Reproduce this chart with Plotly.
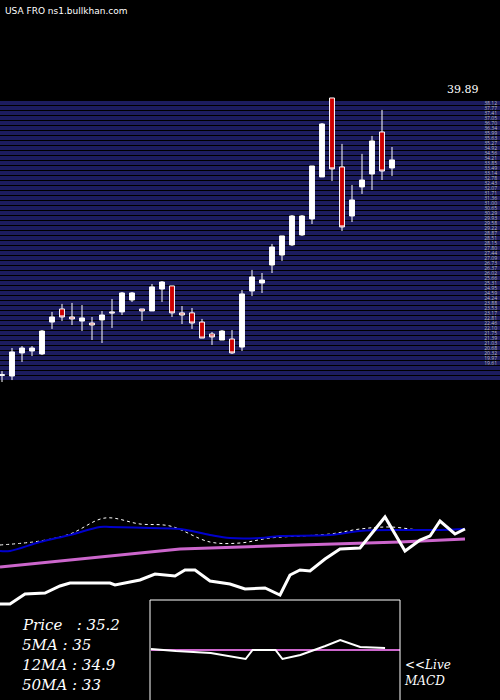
import plotly.graph_objects as go

# daily candles, oldest -> newest
opens  = [20.15, 20.11, 21.75, 21.89, 21.68, 23.95, 24.88, 24.31, 24.02, 23.88,
          24.10, 24.67, 24.67, 25.52, 24.88, 24.74, 26.30, 26.52, 24.60, 24.60,
          23.95, 23.10, 22.67, 22.74, 22.17, 26.16, 26.73, 28.01, 28.72, 29.44,
          30.15, 31.29, 34.28, 39.90, 34.99, 31.50, 33.57, 34.49, 37.48, 34.92]
highs  = [20.46, 22.10, 22.24, 22.24, 23.38, 24.67, 25.24, 25.31, 25.16, 24.31,
          24.74, 25.59, 26.09, 26.09, 24.88, 26.66, 26.87, 26.52, 25.09, 24.95,
          24.17, 23.24, 23.38, 23.38, 26.23, 27.66, 27.44, 29.51, 30.08, 31.57,
          31.57, 35.06, 38.12, 39.90, 36.63, 33.71, 35.92, 37.20, 39.05, 36.41]
lows   = [19.68, 19.82, 21.11, 21.53, 21.60, 23.46, 24.02, 23.74, 23.31, 22.67,
          22.46, 23.53, 24.45, 25.38, 24.02, 24.74, 25.38, 24.31, 23.81, 23.46,
          22.81, 22.32, 22.67, 21.68, 21.89, 25.80, 26.02, 27.44, 28.30, 29.36,
          30.08, 30.93, 34.28, 33.99, 30.43, 31.07, 33.07, 33.35, 34.06, 34.35]
closes = [20.20, 21.82, 22.10, 22.10, 23.31, 24.31, 24.31, 24.17, 24.24, 23.74,
          24.45, 24.60, 26.02, 26.02, 24.74, 26.45, 26.80, 24.60, 24.45, 23.88,
          22.81, 22.89, 23.31, 21.75, 25.95, 27.16, 26.94, 29.29, 30.08, 31.50,
          31.50, 35.06, 38.05, 34.85, 30.72, 32.64, 34.06, 36.84, 34.70, 35.49]
days = list(range(len(closes)))

# lower indicator panel (levels, larger = lower on screen)
blue_x = [-0.2, 0.8, 3.8, 6.8, 9.8, 10.8, 14.8, 17.8, 20.8, 22.8, 25.8, 27.8, 32.8, 35.8, 39.8, 43.8, 46.3]
blue_y = [551, 551, 542, 535, 527, 527, 528, 529, 535, 538, 538, 536, 535, 531, 530, 530, 529]
pink_x = [-0.2, 17.8, 29.8, 39.8, 46.3]
pink_y = [567, 549, 545, 542, 539]
dot_x = [-0.2, 3.8, 6.8, 10.3, 13.8, 16.8, 20.8, 23.8, 26.8, 32.8, 35.8, 38.8, 41.8, 43.8]
dot_y = [545, 541, 534, 518, 524, 526, 542, 543, 538, 534, 529, 527, 530, 530]
px_x = [-0.2, 0.8, 2.3, 4.3, 5.8, 6.8, 10.8, 11.3, 13.8, 15.3, 17.3, 18.3, 19.3, 20.8,
        22.8, 24.3, 26.3, 27.8, 28.8, 29.8, 30.8, 32.3, 33.8, 35.8, 38.3, 40.3, 41.8,
        42.8, 43.8, 45.3, 46.3]
px_y = [604, 604, 594, 593, 586, 583, 583, 585, 580, 574, 576, 570, 570, 581,
        584, 589, 588, 595, 575, 570, 571, 559, 549, 548, 517, 551, 540,
        536, 521, 534, 529]

# MACD inset
macd_x = [0, 2.5, 6, 9.5, 10.2, 12.5, 13.2, 15, 17.5, 19, 21, 23.5]
macd_y = [649, 651, 653, 659, 650, 650, 659, 655, 646, 640, 647, 648]
sig_x = [0, 25]
sig_y = [650, 650]

labels = ["Price   : 35.2", "5MA : 35", "12MA : 34.9", "50MA : 33"]

fig = go.Figure()
fig.add_trace(go.Candlestick(
    x=days, open=opens, high=highs, low=lows, close=closes,
    increasing=dict(fillcolor="white", line=dict(color="white", width=1)),
    decreasing=dict(fillcolor="#cc0000", line=dict(color="white", width=1)),
    whiskerwidth=0, showlegend=False))

fig.add_trace(go.Scatter(x=dot_x, y=dot_y, xaxis="x2", yaxis="y2", mode="lines",
                         line=dict(color="white", width=1, dash="dot", shape="spline")))
fig.add_trace(go.Scatter(x=blue_x, y=blue_y, xaxis="x2", yaxis="y2", mode="lines",
                         line=dict(color="#0000cc", width=2, shape="spline")))
fig.add_trace(go.Scatter(x=pink_x, y=pink_y, xaxis="x2", yaxis="y2", mode="lines",
                         line=dict(color="#cc66cc", width=3)))
fig.add_trace(go.Scatter(x=px_x, y=px_y, xaxis="x2", yaxis="y2", mode="lines",
                         line=dict(color="white", width=3)))

fig.add_trace(go.Scatter(x=sig_x, y=sig_y, xaxis="x3", yaxis="y3", mode="lines",
                         line=dict(color="#cc66cc", width=2)))
fig.add_trace(go.Scatter(x=macd_x, y=macd_y, xaxis="x3", yaxis="y3", mode="lines",
                         line=dict(color="white", width=2)))

for i, t in enumerate(labels):
    fig.add_annotation(text=t, xref="paper", yref="paper", x=0.04, y=(700 - 625 - 20 * i) / 700,
                       showarrow=False, xanchor="left", yanchor="middle",
                       font=dict(family="DejaVu Serif", size=15, color="white", style="italic"))
fig.add_annotation(text="<<Live<br>MACD", xref="paper", yref="paper", x=0.803, y=(700 - 673) / 700,
                   showarrow=False, xanchor="left", yanchor="middle", align="left",
                   font=dict(family="DejaVu Serif", size=12, color="white", style="italic"))
fig.add_annotation(text="USA FRO ns1.bullkhan.com", xref="paper", yref="paper", x=0.005, y=0.995,
                   showarrow=False, xanchor="left", yanchor="top",
                   font=dict(family="DejaVu Sans", size=9, color="white"))
fig.add_annotation(text="39.89", xref="paper", yref="paper", x=0.89, y=(700 - 90) / 700,
                   showarrow=False, xanchor="left", yanchor="middle",
                   font=dict(family="DejaVu Serif", size=11, color="white"))

fig.add_shape(type="rect", xref="paper", yref="paper", x0=0.3, x1=0.8, y0=-0.01, y1=100 / 700,
              line=dict(color="white", width=1))

fig.update_layout(
    width=500, height=700, margin=dict(l=0, r=0, t=0, b=0),
    paper_bgcolor="black", plot_bgcolor="black", showlegend=False,
    xaxis=dict(range=[-0.2, 49.8], domain=[0, 1], visible=False, rangeslider=dict(visible=False)),
    yaxis=dict(domain=[1 - 383 / 700, 1 - 97 / 700], range=[19.61, 39.97], side="right",
               showgrid=True, gridcolor="#1c1c5e", gridwidth=4, dtick=0.356, tick0=19.61,
               ticks="", ticklabelposition="inside", showticklabels=True, ticklabelshift=-20,
               tickfont=dict(size=5, color="#bbbbbb"), tickformat=".2f", zeroline=False),
    xaxis2=dict(range=[-0.2, 49.8], domain=[0, 1], anchor="y2", visible=False),
    yaxis2=dict(domain=[1 - 610 / 700, 1 - 500 / 700], range=[610, 500], visible=False),
    xaxis3=dict(range=[-0.1, 25], domain=[0.3, 0.8], anchor="y3", visible=False),
    yaxis3=dict(domain=[0, 100 / 700], range=[700, 600], visible=False),
)

fig.write_html("out.html", config={"displayModeBar": False},
               post_script="document.body.style.margin='0';document.body.style.overflow='hidden';")
